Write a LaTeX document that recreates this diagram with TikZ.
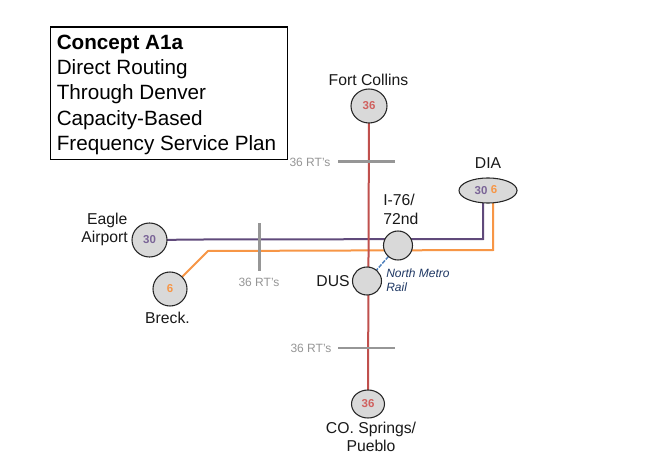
\documentclass[tikz,border=0pt]{standalone}
\usepackage{fontspec}
\setmainfont{Liberation Sans}
\usetikzlibrary{shapes.geometric,backgrounds}
\definecolor{stopfill}{HTML}{D9D9D9}
\definecolor{redline}{HTML}{C0504D}
\definecolor{redtext}{HTML}{D0605E}
\definecolor{purpleline}{HTML}{604A7B}
\definecolor{purpletext}{HTML}{7A6497}
\definecolor{orangeline}{HTML}{F79646}
\definecolor{greyline}{HTML}{969696}
\definecolor{greytext}{HTML}{969696}
\definecolor{blueline}{HTML}{4F81BD}
\definecolor{bluetext}{HTML}{1F3864}
\tikzset{
  stopnode/.style={ellipse,draw=black!85,line width=0.8pt,fill=stopfill,inner sep=0pt,outer sep=0pt,font=\fontsize{8.6}{10}\selectfont\bfseries},
  place/.style={font=\fontsize{11.8}{14}\selectfont,align=center,text=black!90,inner sep=0pt},
  rtlabel/.style={font=\fontsize{9}{11}\selectfont,text=greytext,inner sep=0pt},
  red route/.style={draw=redline,line width=1.5pt},
  purple route/.style={draw=purpleline,line width=1.5pt},
  orange route/.style={draw=orangeline,line width=1.5pt},
  cutline/.style={draw=greyline,line width=1.6pt},
}
\begin{document}
\begin{tikzpicture}[x=0.75pt,y=-0.75pt]
\useasboundingbox (0,0) rectangle (648,463);

% title
\node[draw=black,line width=0.8pt,fill=white,minimum width=178pt,minimum height=99.5pt,anchor=north west,inner sep=0pt] (titlebox) at (50,26.5) {};
\node[anchor=north west,inner sep=0pt,align=left,font=\fontsize{15.5}{19}\selectfont] (titletext) at (56.5,34.5) {\textbf{Concept A1a}\\Direct Routing\\Through Denver\\Capacity-Based\\Frequency Service Plan};

\coordinate (pc0) at (203,239.5);
\coordinate (pc1) at (483,239);
\coordinate (oc1) at (208,251);
\coordinate (oc2) at (493,250);
\coordinate (cutAa) at (338,161.5);
\coordinate (cutAb) at (395,161.5);
\coordinate (cutBa) at (259.5,223);
\coordinate (cutBb) at (259.5,271);
\coordinate (cutCa) at (338,348);
\coordinate (cutCb) at (395,348);

% stops
\node[stopnode,minimum width=27pt,minimum height=25.5pt,text=redtext] (fc) at (369,106) {36};
\node[stopnode,minimum width=24.75pt,minimum height=21pt,text=redtext] (co) at (368,404) {36};
\node[stopnode,minimum width=21.75pt,minimum height=21.75pt] (i76) at (398,245.5) {};
\node[stopnode,minimum width=21.75pt,minimum height=21pt] (dus) at (367,281) {};
\node[stopnode,minimum width=43.5pt,minimum height=18.75pt] (dia) at (488,190.5) {};
\node[stopnode,minimum width=26.25pt,minimum height=25.5pt,text=purpletext] (eagle) at (149.5,240) {30};
\node[stopnode,minimum width=25.5pt,minimum height=25.5pt,text=orangeline] (breck) at (170,289) {6};

% routes, behind the stops
\begin{scope}[on background layer]
\fill[white] (0,0) rectangle (648,463);
\draw[purple route] (eagle) -- (pc0) -- (pc1) -- (pc1 |- dia.south);
\draw[orange route] (breck) -- (oc1) -- (oc2) -- (oc2 |- dia.south);
\draw[red route] (fc) -- (co);
\draw[blueline,line width=1.1pt,dash pattern=on 3pt off 1pt] (i76) -- (dus);
\draw[cutline] (cutAa) -- (cutAb);
\draw[cutline] (cutBa) -- (cutBb);
\draw[cutline] (cutCa) -- (cutCb);
\end{scope}

% dia frequencies
\node[font=\fontsize{8.6}{10}\selectfont\bfseries,text=purpletext,inner sep=0pt] (dia30) at (481,190.5) {30};
\node[font=\fontsize{8.6}{10}\selectfont\bfseries,text=orangeline,inner sep=0pt] (dia6) at (494,190) {6};

% labels
\node[place] (fcl) at (368.5,79.5) {Fort Collins};
\node[place] (dial) at (488,163) {DIA};
\node[place,align=left,anchor=west] (i76l) at (383,209.5) {I-76/\\72nd};
\node[place] (dusl) at (333,281.5) {DUS};
\node[place,align=center] (eaglel) at (104.5,229.5) {\hspace{4pt}Eagle\\Airport};
\node[place] (breckl) at (167.5,318) {Breck.};
\node[place] (col) at (371,437) {CO. Springs/\\Pueblo};
\node[rtlabel] (rta) at (310,162) {36 RT's};
\node[rtlabel] (rtb) at (259,282) {36 RT's};
\node[rtlabel] (rtc) at (311,348) {36 RT's};
\node[anchor=west,align=left,inner sep=0pt,text=bluetext,font=\fontsize{9}{10.5}\selectfont\itshape] (nm) at (386,280) {North Metro\\Rail};
\end{tikzpicture}
\end{document}
